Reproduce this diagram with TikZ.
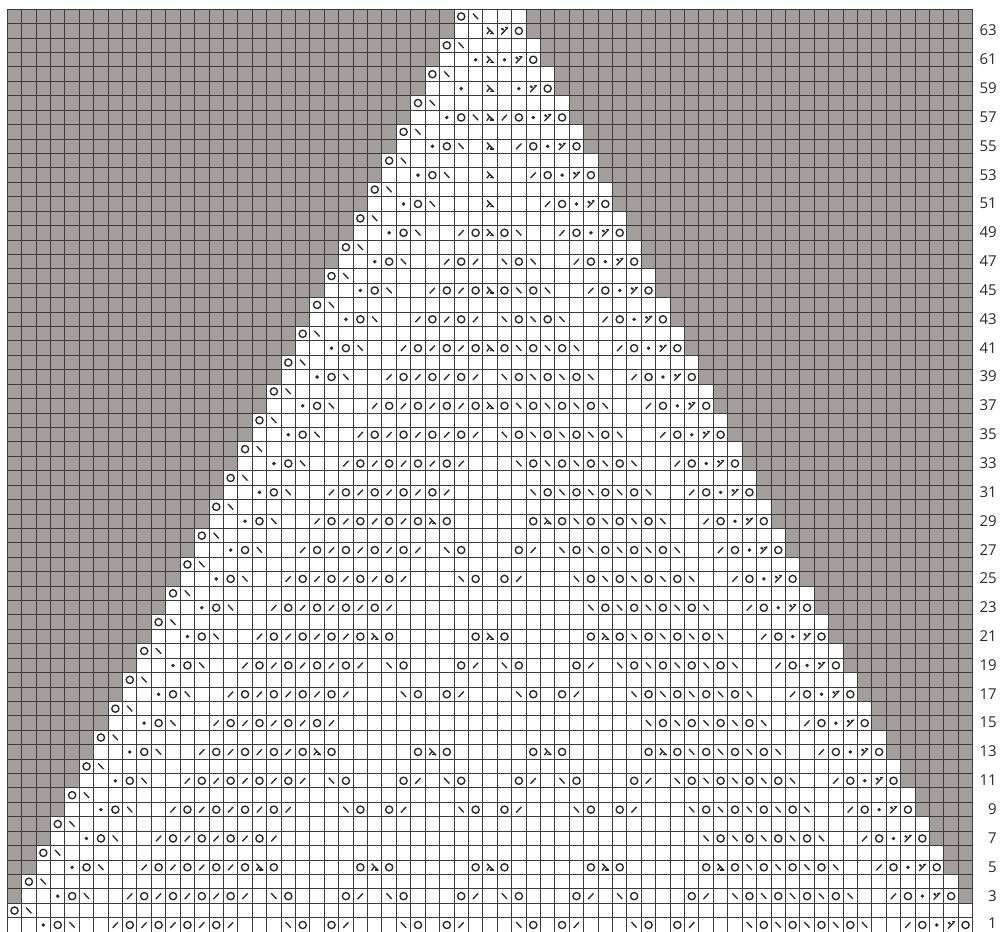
\documentclass[tikz,border=0pt]{standalone}
\usepackage{fontspec}
\setmainfont{Open Sans}
\definecolor{chartgrey}{HTML}{A39E9B}
\definecolor{gridline}{HTML}{3C3A3A}
\definecolor{inkdark}{HTML}{2B2A29}
\tikzset{
  gridrule/.style={fill=gridline,draw=none},
  sym/.style={draw=inkdark,line width=1.35pt},
  rownum/.style={anchor=east,inner sep=0pt,font=\fontsize{15}{16}\selectfont,text=inkdark}
}
\newcommand\symO[2]{\draw[sym] (#1+.5,64.5-#2) circle [radius=3.6pt];}
\newcommand\symB[2]{\draw[sym] (#1+.5,64.5-#2) ++(-2.7pt,2.9pt) -- ++(5.2pt,-5.6pt);}
\newcommand\symF[2]{\draw[sym] (#1+.5,64.5-#2) ++(-2.7pt,-2.9pt) -- ++(5.2pt,5.6pt);}
\newcommand\symD[2]{\fill[inkdark] (#1+.5,64.5-#2) circle [radius=1.9pt];}
\newcommand\symL[2]{%
  \draw[sym] (#1+.5,64.5-#2) ++(-3pt,3.6pt) -- ++(6.6pt,-6.8pt);
  \draw[sym] (#1+.5,64.5-#2) ++(-.3pt,.6pt) -- ++(-3pt,-3.8pt);
  \draw[sym] (#1+.5,64.5-#2) ++(-.2pt,-2.6pt) -- ++(3.9pt,0pt);}
\newcommand\symY[2]{%
  \draw[sym] (#1+.5,64.5-#2) ++(-3.2pt,-3.6pt) -- ++(6.6pt,7pt);
  \draw[sym,line width=1.9pt] (#1+.5,64.5-#2) ++(-3pt,2.7pt) -- ++(2.2pt,-1.8pt);
  \draw[sym,line width=1pt] (#1+.5,64.5-#2) ++(.6pt,3pt) -- ++(2.8pt,0pt);}
\newcommand\runL[3]{%
  \symF{#2}{#1}%
  \pgfmathtruncatemacro\cnt{(#3-#2)/2}%
  \foreach \n in {1,...,\cnt} {\symO{#2+2*\n-1}{#1}\symF{#2+2*\n}{#1}}}
\newcommand\runR[3]{%
  \symB{#2}{#1}%
  \pgfmathtruncatemacro\cnt{(#3-#2)/2}%
  \foreach \n in {1,...,\cnt} {\symO{#2+2*\n-1}{#1}\symB{#2+2*\n}{#1}}}
\newcommand\triple[2]{\symO{#2-1}{#1}\symL{#2}{#1}\symO{#2+1}{#1}}
\newcommand\pairA[2]{\symB{#2}{#1}\symO{#2+1}{#1}}
\newcommand\pairB[2]{\symO{#2}{#1}\symF{#2+1}{#1}}
\begin{document}
\begin{tikzpicture}[x=14.41pt,y=-14.42pt]
\useasboundingbox (-7.3pt,9.3pt) rectangle (992.7pt,-921.7pt);
\begin{scope}
\clip (-7.3pt,9.3pt) rectangle (992.7pt,-921.7pt);
\fill[chartgrey] (0,0) rectangle (67,64.2);
\foreach \j in {0,...,31} {\fill[white] (31-\j,2*\j) rectangle (36+\j,2*\j+2);}
\foreach \k in {0,...,67} {\path[gridrule] (\k,0) ++(-.5pt,.5pt) rectangle ([shift={(.5pt,0pt)}] \k,64.2);}
\foreach \k in {0,...,64} {\path[gridrule] (0,\k) ++(-.5pt,.5pt) rectangle ([shift={(.5pt,-.5pt)}] 67,\k);}
% even rows: edge decrease
\foreach \j in {0,...,31} {
  \pgfmathtruncatemacro\rr{64-2*\j}
  \symO{31-\j}{\rr}\symB{32-\j}{\rr}
}
% odd rows: edge panels
\foreach \j in {3,...,31} {
  \pgfmathtruncatemacro\rr{63-2*\j}
  \symD{33-\j}{\rr}\symO{34-\j}{\rr}\symB{35-\j}{\rr}
  \symF{31+\j}{\rr}\symO{32+\j}{\rr}\symD{33+\j}{\rr}\symY{34+\j}{\rr}\symO{35+\j}{\rr}
}
% top rows
\symL{33}{63}\symY{34}{63}\symO{35}{63}
\symD{32}{61}\symL{33}{61}\symD{34}{61}\symY{35}{61}\symO{36}{61}
\symD{31}{59}\symL{33}{59}\symD{35}{59}\symY{36}{59}\symO{37}{59}
\symL{33}{57}\symL{33}{55}\symL{33}{53}\symL{33}{51}
\symF{31}{49}\triple{49}{33}\symB{35}{49}
\runL{47}{30}{32}\runR{47}{34}{36}
\runL{45}{29}{31}\triple{45}{33}\runR{45}{35}{37}
\runL{43}{28}{32}\runR{43}{34}{38}
\runL{41}{27}{31}\triple{41}{33}\runR{41}{35}{39}
\runL{39}{26}{32}\runR{39}{34}{40}
\runL{37}{25}{31}\triple{37}{33}\runR{37}{35}{41}
\runL{35}{24}{32}\runR{35}{34}{42}
\runL{33}{23}{31}\runR{33}{35}{43}
\runL{31}{22}{30}\runR{31}{36}{44}
\runL{29}{21}{27}\triple{29}{29}\triple{29}{37}\runR{29}{39}{45}
\runL{27}{20}{28}\pairA{27}{30}\pairB{27}{35}\runR{27}{38}{46}
\runL{25}{19}{27}\pairA{25}{31}\pairB{25}{34}\runR{25}{39}{47}
\runL{23}{18}{26}\runR{23}{40}{48}
\runL{21}{17}{23}\triple{21}{25}\triple{21}{33}\triple{21}{41}\runR{21}{43}{49}
\runL{19}{16}{24}\pairA{19}{26}\pairB{19}{31}\pairA{19}{34}\pairB{19}{39}\runR{19}{42}{50}
\runL{17}{15}{23}\pairA{17}{27}\pairB{17}{30}\pairA{17}{35}\pairB{17}{38}\runR{17}{43}{51}
\runL{15}{14}{22}\runR{15}{44}{52}
\runL{13}{13}{19}\triple{13}{21}\triple{13}{29}\triple{13}{37}\triple{13}{45}\runR{13}{47}{53}
\runL{11}{12}{20}\pairA{11}{22}\pairB{11}{27}\pairA{11}{30}\pairB{11}{35}\pairA{11}{38}\pairB{11}{43}\runR{11}{46}{54}
\runL{9}{11}{19}\pairA{9}{23}\pairB{9}{26}\pairA{9}{31}\pairB{9}{34}\pairA{9}{39}\pairB{9}{42}\runR{9}{47}{55}
\runL{7}{10}{18}\runR{7}{48}{56}
\runL{5}{9}{15}\triple{5}{17}\triple{5}{25}\triple{5}{33}\triple{5}{41}\triple{5}{49}\runR{5}{51}{57}
\runL{3}{8}{16}\pairA{3}{18}\pairB{3}{23}\pairA{3}{26}\pairB{3}{31}\pairA{3}{34}\pairB{3}{39}\pairA{3}{42}\pairB{3}{47}\runR{3}{50}{58}
\runL{1}{7}{15}\pairA{1}{19}\pairB{1}{22}\pairA{1}{27}\pairB{1}{30}\pairA{1}{35}\pairB{1}{38}\pairA{1}{43}\pairB{1}{46}\runR{1}{51}{59}
\end{scope}
\foreach \r in {3,5,...,63} {
  \node[rownum] (row\r) at (68.68,64.47-\r) {\r};
}
\node[rownum] (row1) at (68.68,63.4) {1};
\end{tikzpicture}
\end{document}
